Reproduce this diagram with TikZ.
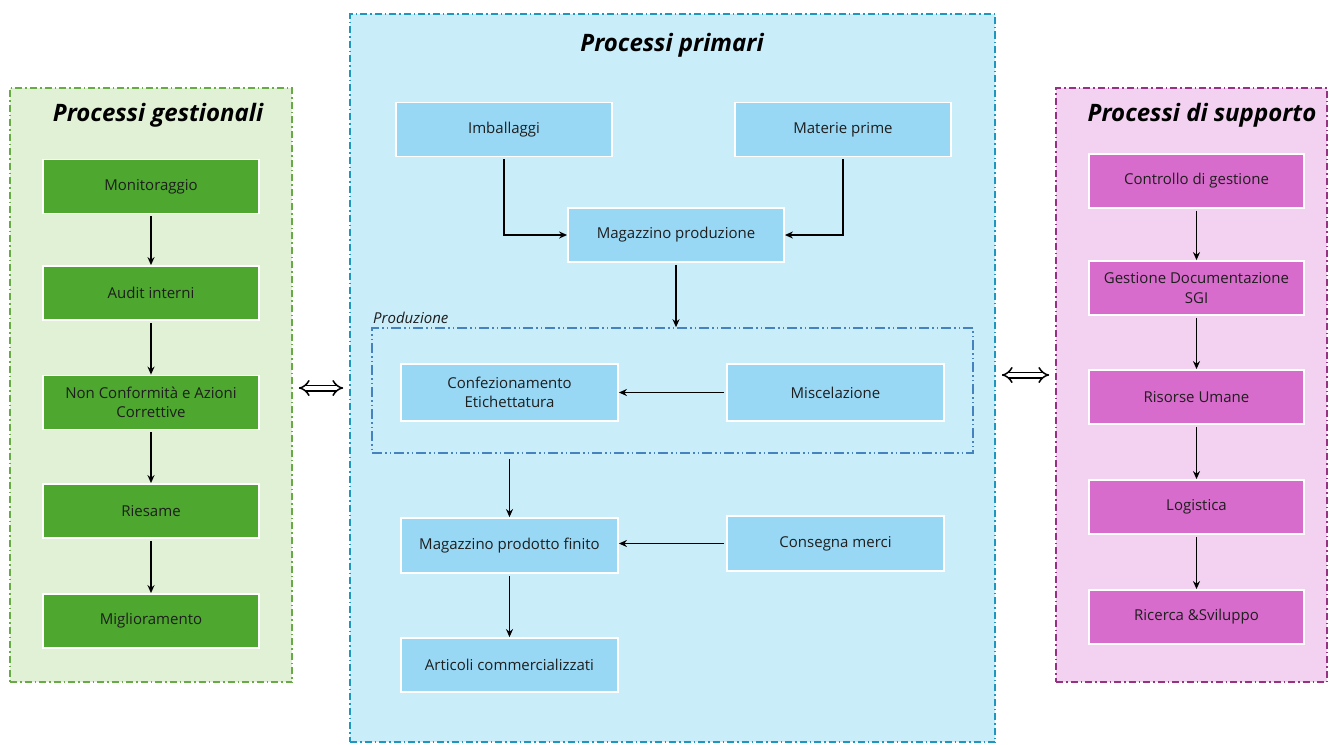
\documentclass[tikz,border=0pt]{standalone}
\usepackage{fontspec}
\setmainfont{Open Sans}
\usetikzlibrary{arrows.meta,calc}
\definecolor{gpanel}{RGB}{224,241,214}
\definecolor{gborder}{RGB}{104,170,70}
\definecolor{gfill}{RGB}{78,167,46}
\definecolor{bpanel}{RGB}{202,237,250}
\definecolor{bborder}{RGB}{30,150,190}
\definecolor{pborder}{RGB}{70,130,190}
\definecolor{bfill}{RGB}{152,216,245}
\definecolor{ppanel}{RGB}{242,210,240}
\definecolor{mborder}{RGB}{150,50,130}
\definecolor{mfill}{RGB}{216,108,204}
\definecolor{txt}{RGB}{30,30,30}
\tikzset{
  panel/.style={line width=1.6pt, dash pattern=on 7pt off 3pt on 1.5pt off 3pt, inner sep=0pt},
  boxbase/.style={draw=white, line width=1.8pt, minimum width=216pt, minimum height=54pt, align=center, text=txt, font=\fontsize{15}{19.5}\selectfont, inner sep=2pt},
  gbox/.style={boxbase, fill=gfill},
  bbox/.style={boxbase, fill=bfill},
  mbox/.style={boxbase, fill=mfill},
  title/.style={font=\fontsize{24}{28}\selectfont\bfseries\itshape, text=black},
  conn/.style={line width=1.8pt, -{Stealth[length=8pt,width=7pt]}},
  dbl/.style={double distance=4pt, line width=1.5pt, {Implies}-{Implies}, shorten <=6pt, shorten >=6pt},
}
\begin{document}
\begin{tikzpicture}[x=1pt,y=-1pt]
\useasboundingbox (0,0) rectangle (1329,744);
% panels
\node[panel, draw=gborder, fill=gpanel, minimum width=282pt, minimum height=594pt] (gp) at (151,385) {};
\node[panel, draw=bborder, fill=bpanel, minimum width=645pt, minimum height=728pt] (bp) at (672.5,378) {};
\node[panel, draw=mborder, fill=ppanel, minimum width=271pt, minimum height=594pt] (mp) at (1191.5,385) {};
% titles
\node[title] (tg) at (158,115) {Processi gestionali};
\node[title] (tb) at (672,45) {Processi primari};
\node[title] (tm) at (1202,115) {Processi di supporto};
% green column
\node[gbox] (g1) at (151,186.5) {Monitoraggio};
\node[gbox] (g2) at (151,293) {Audit interni};
\node[gbox] (g3) at (151,402.5) {Non Conformità e Azioni\\Correttive};
\node[gbox] (g4) at (151,511) {Riesame};
\node[gbox] (g5) at (151,621) {Miglioramento};
\foreach \a/\b in {g1/g2,g2/g3,g3/g4,g4/g5} \draw[conn, shorten <=2pt] (\a.south) -- (\b.north);
% magenta column
\node[mbox, minimum width=215pt] (s1) at (1196.5,181) {Controllo di gestione};
\node[mbox, minimum width=215pt] (s2) at (1196.5,288) {Gestione Documentazione\\SGI};
\node[mbox, minimum width=215pt] (s3) at (1196.5,397) {Risorse Umane};
\node[mbox, minimum width=215pt] (s4) at (1196.5,507) {Logistica};
\node[mbox, minimum width=215pt] (s5) at (1196.5,617) {Ricerca \&Sviluppo};
\foreach \a/\b in {s1/s2,s2/s3,s3/s4,s4/s5} \draw[conn, shorten <=2pt] (\a.south) -- (\b.north);
% production sub-box
\node[draw=pborder, line width=1.6pt, dash pattern=on 10pt off 3pt on 1.5pt off 3pt on 1.5pt off 3pt, minimum width=601pt, minimum height=125pt, inner sep=0pt] (prod) at (672.5,390.5) {};
\node[anchor=south west, font=\fontsize{15}{18}\selectfont\itshape, text=txt, inner sep=1pt] (prodlbl) at (372,325) {Produzione};
% blue boxes
\node[bbox] (imb) at (504,129.5) {Imballaggi};
\node[bbox] (mat) at (843,129.5) {Materie prime};
\node[bbox] (magp) at (676,235) {Magazzino produzione};
\node[bbox, minimum width=217pt, minimum height=57pt] (conf) at (509.5,392.5) {Confezionamento\\Etichettatura};
\node[bbox, minimum width=217pt, minimum height=57pt] (misc) at (835.5,392.5) {Miscelazione};
\node[bbox, minimum width=217pt, minimum height=55pt] (magf) at (509.5,545.5) {Magazzino prodotto finito};
\node[bbox, minimum width=217pt, minimum height=55pt] (cons) at (835.5,543.5) {Consegna merci};
\node[bbox, minimum width=217pt] (art) at (509.5,665) {Articoli commercializzati};
% connectors
\draw[conn, shorten <=2pt] (imb.south) |- (magp.west);
\draw[conn, shorten <=2pt] (mat.south) |- (magp.east);
\draw[conn, shorten <=2pt] (magp.south) -- (magp.south |- prod.north);
\draw[conn, shorten <=2pt] (misc.west) -- (conf.east);
\draw[conn, shorten <=5pt] (prod.south -| magf.north) -- (magf.north);
\draw[conn, shorten <=2pt] (cons.west) -- (cons.west -| magf.east);
\draw[conn, shorten <=2pt] (magf.south) -- (art.north);
% double arrows between panels
\draw[dbl] ([yshift=-3pt]gp.east) -- ([yshift=-3pt]gp.east -| bp.west);
\draw[dbl] ([yshift=3pt]bp.east) -- ([yshift=3pt]bp.east -| mp.west);
\end{tikzpicture}
\end{document}
